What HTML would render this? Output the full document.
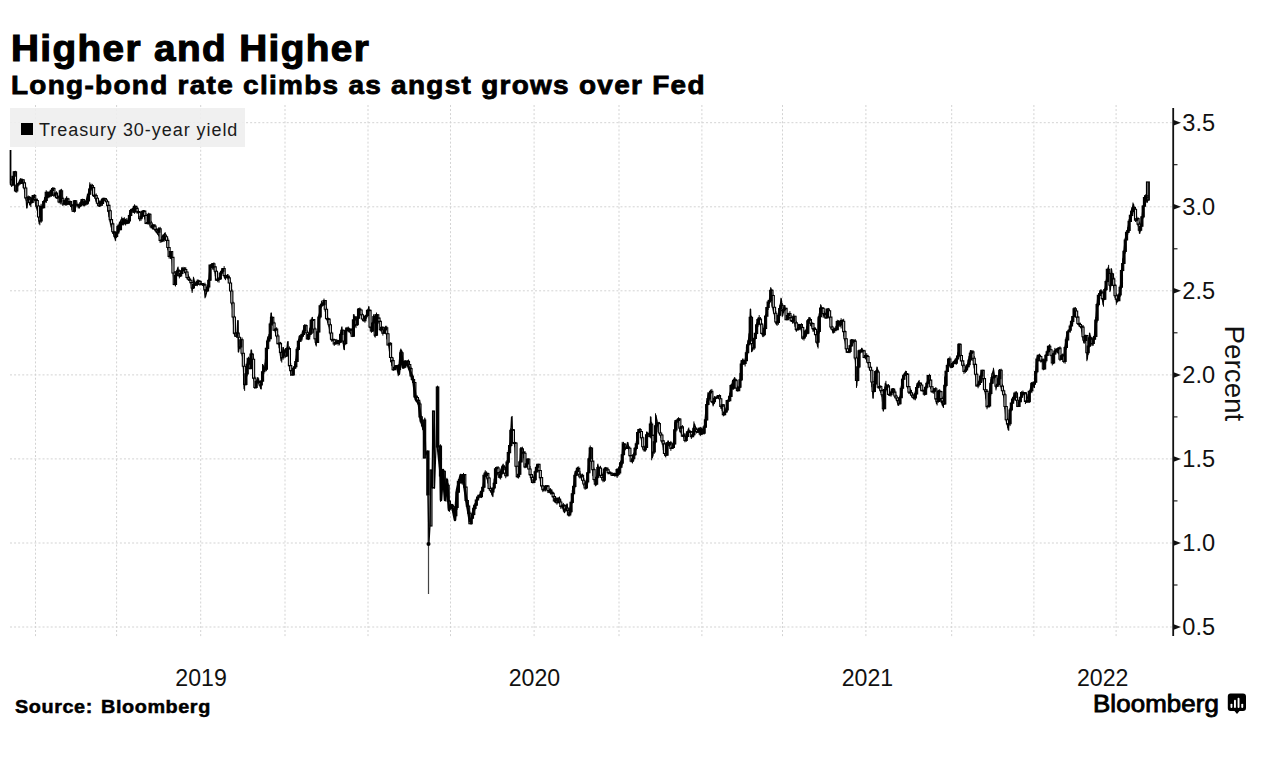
<!DOCTYPE html>
<html><head><meta charset="utf-8"><style>
html,body{margin:0;padding:0;background:#fff;width:1266px;height:762px;overflow:hidden;}
body{position:relative;font-family:"Liberation Sans",sans-serif;color:#000;}
.t{position:absolute;white-space:nowrap;line-height:1;}
</style></head><body>
<div class="t" id="title" style="left:10.6px;top:30.7px;font-size:36px;font-weight:bold;letter-spacing:1.3px;-webkit-text-stroke:1.1px #000;transform:scaleX(1.075);transform-origin:0 0;">Higher and Higher</div>
<div class="t" id="sub" style="left:11px;top:72.2px;font-size:26px;font-weight:bold;letter-spacing:1.2px;-webkit-text-stroke:0.8px #000;transform:scaleX(1.075);transform-origin:0 0;">Long-bond rate climbs as angst grows over Fed</div>
<svg width="1266" height="762" style="position:absolute;left:0;top:0">
<g stroke="#d3d3d3" stroke-width="1" stroke-dasharray="2 2.07" fill="none">
<line x1="35.5" y1="105" x2="35.5" y2="638" /><line x1="116.6" y1="105" x2="116.6" y2="638" /><line x1="200.7" y1="105" x2="200.7" y2="638" /><line x1="285" y1="105" x2="285" y2="638" /><line x1="368" y1="105" x2="368" y2="638" /><line x1="450.5" y1="105" x2="450.5" y2="638" /><line x1="534.1" y1="105" x2="534.1" y2="638" /><line x1="619" y1="105" x2="619" y2="638" /><line x1="701.9" y1="105" x2="701.9" y2="638" /><line x1="782.5" y1="105" x2="782.5" y2="638" /><line x1="865.9" y1="105" x2="865.9" y2="638" /><line x1="951.7" y1="105" x2="951.7" y2="638" /><line x1="1033.9" y1="105" x2="1033.9" y2="638" /><line x1="1116.1" y1="105" x2="1116.1" y2="638" /><line x1="10" y1="122.7" x2="1172" y2="122.7" /><line x1="10" y1="206.8" x2="1172" y2="206.8" /><line x1="10" y1="290.8" x2="1172" y2="290.8" /><line x1="10" y1="374.9" x2="1172" y2="374.9" /><line x1="10" y1="458.9" x2="1172" y2="458.9" /><line x1="10" y1="543.0" x2="1172" y2="543.0" /><line x1="10" y1="627.0" x2="1172" y2="627.0" />
</g>
<rect x="10" y="108" width="235" height="39" fill="#eeeeee" fill-opacity="0.9"/>
<rect x="21" y="123" width="12" height="12" fill="#000"/>
<text x="39" y="135.6" font-size="18" letter-spacing="0.95" font-family="Liberation Sans" fill="#1a1a1a">Treasury 30-year yield</text>
<g stroke="#000" stroke-width="1.1"><rect x="423.3" y="420" width="2.4" height="38" fill="#444"/><rect x="426.8" y="451" width="2.2" height="44" fill="#000"/><rect x="430" y="470" width="2" height="56" fill="#999"/><rect x="432.5" y="411" width="2" height="77" fill="#999"/><rect x="436.3" y="387" width="2.5" height="60" fill="#000"/></g><line x1="428.3" y1="495" x2="428.3" y2="543" stroke="#555" stroke-width="1.6"/><line x1="10.6" y1="150" x2="10.6" y2="185" stroke="#000" stroke-width="1.6"/><line x1="428.5" y1="543" x2="428.5" y2="594" stroke="#444" stroke-width="1.2"/><circle cx="428.5" cy="544" r="2" fill="#000"/><line x1="437.5" y1="446" x2="440" y2="470" stroke="#000" stroke-width="2"/><rect x="1146.5" y="182" width="2.8" height="18" fill="#bbb" stroke="#000" stroke-width="1.2"/>
<path d="M10.4 150.1 L10.4 183.3 L13.0 177.5 L14.4 176.1 L15.9 186.2 L18.0 184.7 L20.2 179.0 L22.4 180.4 L23.8 186.2 L26.0 197.7 L26.7 207.8 L28.1 200.6 L30.3 204.9 L32.5 196.3 L34.6 199.2 L36.1 206.4 L38.2 212.2 L39.2 223.7 L41.1 207.8 L43.3 206.4 L44.7 197.7 L47.6 194.8 L51.9 190.5 L54.8 193.4 L57.7 197.7 L60.6 194.8 L63.5 203.5 L66.4 197.7 L69.3 203.5 L72.2 207.8 L75.0 202.0 L79.4 207.8 L82.3 199.2 L85.1 203.5 L88.0 194.8 L90.2 184.7 L93.1 190.5 L96.0 200.6 L99.6 206.4 L102.5 199.2 L106.1 200.6 L108.2 210.7 L111.1 226.6 L115.4 239.6 L118.3 226.6 L121.2 219.4 L122.9 218.9 L125.8 220.3 L127.9 223.2 L130.1 211.6 L132.3 208.8 L134.4 206.6 L137.3 208.8 L139.5 214.5 L141.6 217.4 L143.8 213.1 L146.0 221.7 L148.9 216.7 L150.3 224.6 L151.7 227.5 L154.6 229.0 L156.1 231.8 L158.2 234.7 L160.4 237.6 L163.3 236.2 L164.7 233.3 L166.2 239.1 L167.6 247.7 L169.8 256.4 L171.9 259.3 L172.7 267.9 L174.1 283.8 L175.6 276.6 L177.7 267.9 L179.9 276.6 L182.0 267.9 L184.9 272.3 L187.8 275.1 L190.7 280.9 L192.2 291.0 L193.6 278.0 L195.0 283.8 L197.9 280.9 L200.0 282.1 L203.7 285.7 L205.5 296.8 L208.3 285.7 L210.1 265.5 L212.9 263.7 L215.6 274.7 L218.4 280.2 L221.1 274.7 L223.0 271.0 L224.8 278.4 L227.6 274.7 L229.4 282.1 L231.3 296.8 L233.1 315.2 L234.0 333.6 L236.8 337.2 L237.7 320.7 L238.6 352.0 L240.5 339.1 L243.2 363.0 L244.1 388.7 L246.0 370.3 L247.8 359.3 L249.7 366.7 L251.5 350.1 L253.3 374.0 L255.2 386.9 L257.9 377.7 L260.7 388.7 L263.1 365.0 L264.5 370.8 L266.0 353.5 L267.4 339.1 L269.6 334.7 L271.0 313.1 L273.2 324.6 L276.1 334.7 L279.0 344.8 L281.1 360.7 L283.3 347.7 L286.2 356.4 L287.6 341.9 L289.1 365.0 L291.2 373.7 L293.4 370.8 L295.6 362.2 L297.0 350.6 L299.2 336.2 L302.0 336.2 L304.2 326.1 L306.4 331.8 L308.5 334.7 L310.7 326.1 L312.2 317.4 L314.3 331.8 L315.8 344.8 L317.9 334.7 L318.6 317.4 L321.5 303.0 L324.4 304.4 L326.6 318.9 L328.7 324.6 L330.9 337.6 L333.8 341.9 L336.7 343.4 L339.6 343.4 L341.7 327.5 L343.9 349.2 L346.1 329.0 L349.7 331.8 L352.6 336.2 L354.0 314.5 L355.4 326.1 L358.3 313.1 L361.9 314.5 L363.2 319.4 L366.3 317.3 L368.8 306.8 L369.5 320.5 L371.6 332.0 L373.7 315.2 L374.7 336.2 L376.8 315.2 L380.0 325.7 L383.1 332.0 L385.2 327.8 L387.3 338.3 L389.4 348.8 L391.1 361.4 L393.6 369.8 L396.8 365.6 L398.9 374.0 L401.0 350.9 L403.1 367.7 L405.2 361.4 L407.3 363.5 L410.4 371.9 L413.6 382.4 L415.7 399.2 L418.8 403.4 L420.9 420.3 L423.0 426.6 L423.5 430.0 L424.0 458.0 L424.8 418.0 L425.8 455.0 L427.5 451.0 L428.0 495.0 L429.0 543.0 L430.0 526.0 L431.0 470.0 L432.0 488.0 L433.0 411.0 L434.5 488.0 L436.0 446.0 L437.5 386.0 L438.5 446.0 L440.0 446.0 L441.0 500.0 L443.0 470.0 L445.0 500.0 L447.0 480.0 L449.0 510.0 L452.0 505.0 L455.0 520.0 L457.0 490.0 L460.7 475.0 L463.6 481.0 L466.5 501.0 L470.0 522.0 L473.7 507.0 L478.0 498.0 L482.4 490.0 L485.0 472.0 L489.6 487.0 L492.5 496.0 L495.4 470.0 L499.9 478.0 L501.3 468.2 L503.0 464.8 L505.6 475.0 L507.3 463.1 L509.0 452.9 L510.4 439.2 L511.5 417.1 L513.3 440.9 L515.0 446.0 L516.7 475.0 L519.2 473.3 L520.9 447.7 L523.5 454.6 L525.2 464.8 L527.7 459.7 L529.5 468.2 L531.2 480.2 L532.9 481.9 L535.4 471.6 L537.1 464.8 L538.8 468.2 L540.5 480.2 L543.1 490.4 L545.7 487.0 L548.2 488.7 L551.6 490.4 L555.0 502.3 L558.4 500.6 L561.9 505.7 L564.4 512.6 L567.0 504.0 L568.7 514.3 L571.2 502.3 L572.9 490.4 L575.5 473.3 L577.2 468.2 L579.8 473.3 L582.3 478.4 L584.9 485.3 L587.4 478.4 L590.0 447.7 L591.7 461.4 L593.4 475.0 L596.0 485.3 L597.7 464.8 L600.2 473.3 L602.8 475.0 L605.3 468.2 L608.8 471.6 L612.2 475.0 L616.4 475.0 L619.0 471.6 L620.0 463.1 L621.9 459.6 L622.8 444.3 L625.3 449.4 L627.9 442.6 L629.6 452.8 L632.2 457.9 L635.6 449.4 L637.3 435.7 L639.8 428.9 L642.4 446.0 L645.0 451.1 L646.7 432.3 L649.2 435.7 L650.9 417.0 L652.3 457.9 L654.3 446.0 L656.0 415.3 L658.6 430.6 L661.2 435.7 L663.7 449.4 L665.4 456.2 L668.0 440.8 L671.4 447.7 L673.9 442.6 L674.8 423.8 L678.2 418.7 L679.9 430.6 L683.3 435.7 L685.0 440.8 L688.4 428.9 L691.9 435.7 L694.4 423.8 L697.0 432.3 L699.5 428.9 L702.1 432.3 L704.6 425.5 L706.4 405.0 L708.1 394.8 L710.6 393.1 L713.2 405.0 L715.7 398.2 L719.1 396.5 L721.7 408.4 L725.1 413.6 L727.7 401.6 L730.2 393.1 L731.1 386.3 L734.5 377.7 L737.0 386.3 L739.6 388.0 L740.5 374.3 L741.3 360.7 L744.7 364.1 L746.8 348.2 L749.4 334.6 L750.6 309.0 L751.9 351.6 L753.6 344.8 L755.3 334.6 L757.1 324.3 L758.8 317.5 L761.3 326.0 L763.0 336.3 L765.6 317.5 L767.3 307.3 L769.8 300.5 L771.0 288.5 L772.4 305.6 L775.0 317.5 L776.7 324.3 L779.2 310.7 L781.3 298.8 L782.6 315.8 L784.7 305.6 L786.0 319.2 L788.6 314.1 L791.2 320.9 L793.7 317.5 L796.3 331.2 L798.8 324.3 L800.5 327.7 L803.1 336.3 L805.7 331.2 L807.4 326.0 L809.1 317.5 L810.8 324.3 L813.3 329.5 L815.9 334.6 L817.6 346.5 L818.4 319.2 L821.0 305.6 L823.6 315.8 L826.1 314.1 L827.8 310.7 L830.4 320.9 L832.9 332.9 L835.5 329.5 L838.1 320.9 L840.6 326.0 L842.3 322.6 L844.0 334.6 L846.6 351.6 L849.1 349.9 L851.7 339.7 L854.3 343.1 L856.0 370.4 L856.8 385.7 L858.5 355.0 L861.9 348.2 L864.5 356.7 L867.9 361.9 L870.5 368.7 L872.2 385.7 L873.0 397.7 L874.7 377.2 L875.1 376.3 L877.2 367.7 L878.5 381.4 L880.2 388.2 L881.9 395.0 L883.3 410.4 L885.3 383.1 L887.9 388.2 L889.6 395.0 L893.0 389.9 L895.6 395.0 L898.1 405.3 L900.7 393.3 L902.4 378.0 L905.8 371.2 L907.5 384.8 L910.9 391.6 L913.5 398.4 L916.0 389.9 L918.6 381.4 L921.2 389.9 L924.6 391.6 L928.8 378.0 L931.4 388.2 L934.8 391.6 L936.5 403.6 L939.1 393.3 L940.8 400.2 L943.3 407.0 L945.0 378.0 L948.4 359.2 L951.0 367.7 L954.4 360.9 L957.0 357.5 L959.5 347.3 L962.1 364.3 L964.6 371.2 L967.2 366.0 L970.6 350.7 L973.2 359.2 L974.9 371.2 L976.6 384.8 L979.1 381.4 L981.7 371.2 L984.3 386.5 L986.0 398.4 L987.7 407.0 L989.4 391.6 L991.9 374.6 L993.6 369.5 L996.2 388.2 L999.6 369.5 L1001.3 386.5 L1003.9 396.7 L1005.9 418.2 L1008.3 430.0 L1009.4 413.4 L1011.8 401.6 L1014.2 394.6 L1017.7 404.0 L1020.1 399.3 L1023.6 392.2 L1026.0 401.6 L1029.5 392.2 L1031.9 382.8 L1034.2 387.5 L1036.6 361.5 L1040.1 359.2 L1043.7 363.9 L1046.0 356.8 L1049.6 345.0 L1051.9 359.2 L1055.5 349.7 L1060.2 354.4 L1063.7 359.2 L1066.1 337.9 L1070.8 326.1 L1073.2 316.7 L1075.5 311.9 L1077.9 323.7 L1081.4 328.5 L1083.8 342.6 L1086.2 335.5 L1087.3 359.2 L1089.7 333.2 L1092.1 345.0 L1094.4 335.5 L1097.8 296.4 L1101.0 290.1 L1103.1 304.7 L1105.2 288.0 L1107.3 273.3 L1108.3 267.0 L1110.4 290.1 L1111.5 269.1 L1113.6 285.9 L1116.7 302.6 L1119.9 296.4 L1120.9 277.5 L1123.0 260.7 L1125.1 239.7 L1127.2 231.3 L1129.3 220.8 L1131.4 210.3 L1133.5 204.1 L1135.6 216.6 L1137.7 222.9 L1139.8 233.4 L1141.9 218.7 L1142.9 208.2 L1145.0 197.8 L1147.1 202.0 L1148.2 199.9 L1148.2 182.0" stroke="#000" stroke-width="1.2" fill="none" stroke-linejoin="round"/><path d="M11.67 179.41V187.01M12.95 176.07V186.09M14.23 171.40V178.14M15.51 170.82V192.27M16.79 183.50V192.82M18.07 183.08V186.58M19.35 180.50V183.79M20.63 178.22V184.02M21.91 178.22V183.83M23.19 179.61V187.94M24.47 181.25V192.03M25.75 186.41V198.63M27.03 196.07V208.37M28.31 195.54V202.66M29.59 196.12V205.40M30.87 202.12V207.06M32.15 195.08V202.84M33.43 194.74V200.19M34.71 194.06V200.55M35.99 198.86V206.83M37.27 198.63V210.98M38.55 205.43V219.09M39.83 214.55V225.25M41.11 203.79V222.87M42.39 206.08V208.62M43.67 201.18V208.23M44.95 197.19V202.40M46.23 190.28V202.94M47.51 191.87V197.96M48.79 192.15V198.30M50.07 190.81V197.13M51.35 189.05V196.84M52.63 187.21V191.50M53.91 187.11V197.05M55.19 193.10V196.44M56.47 191.30V198.68M57.75 195.06V198.70M59.03 195.54V203.24M60.31 189.32V204.34M61.59 188.83V201.10M62.87 196.87V206.06M64.15 199.80V205.24M65.43 198.96V205.63M66.71 196.17V205.66M67.99 197.73V204.98M69.27 201.45V204.43M70.55 200.66V207.08M71.83 204.20V210.15M73.11 205.33V211.96M74.39 200.20V212.60M75.67 200.45V205.76M76.95 202.39V207.44M78.23 203.60V208.51M79.51 204.18V208.26M80.79 200.54V207.00M82.07 199.00V203.93M83.35 198.94V206.27M84.63 201.02V206.36M85.91 200.24V205.53M87.19 195.37V204.91M88.47 191.64V203.21M89.75 182.32V194.30M91.03 183.62V190.66M92.31 183.88V191.17M93.59 186.23V197.01M94.87 194.63V198.46M96.15 193.48V202.11M97.43 196.89V205.40M98.71 201.65V206.67M99.99 199.92V206.57M101.27 199.53V205.98M102.55 198.84V205.81M103.83 197.78V200.67M105.11 198.05V201.44M106.39 198.14V202.17M107.67 200.64V211.80M108.95 204.64V216.91M110.23 209.40V222.15M111.51 217.37V229.98M112.79 222.34V234.01M114.07 230.74V237.24M115.35 231.45V241.16M116.63 232.04V238.03M117.91 224.58V234.20M119.19 223.34V231.90M120.47 220.85V229.63M121.75 216.73V224.81M123.03 218.36V225.72M124.31 217.23V223.96M125.59 219.05V225.46M126.87 217.97V224.28M128.15 219.54V223.66M129.43 212.91V223.21M130.71 208.88V216.32M131.99 208.41V212.53M133.27 206.45V212.90M134.55 204.32V213.81M135.83 205.86V210.57M137.11 206.76V213.89M138.39 209.79V213.44M139.67 211.60V221.21M140.95 214.67V220.92M142.23 211.13V218.42M143.51 209.99V214.76M144.79 210.85V219.37M146.07 213.13V224.16M147.35 219.33V224.44M148.63 212.72V224.64M149.91 213.29V226.17M151.19 220.86V228.56M152.47 224.50V229.51M153.75 224.45V229.28M155.03 224.26V231.24M156.31 227.74V232.90M157.59 230.40V234.47M158.87 227.04V236.31M160.15 226.86V242.93M161.43 236.93V242.43M162.71 235.11V242.12M163.99 234.60V242.03M165.27 232.25V237.93M166.55 235.29V241.82M167.83 238.09V249.83M169.11 246.98V258.58M170.39 251.04V258.99M171.67 251.27V259.48M172.95 257.30V273.13M174.23 271.04V285.43M175.51 273.25V286.47M176.79 270.16V276.73M178.07 266.62V271.70M179.35 269.50V278.41M180.63 271.56V276.61M181.91 267.26V274.35M183.19 266.85V270.83M184.47 267.15V273.25M185.75 267.11V275.30M187.03 271.61V278.74M188.31 274.27V280.65M189.59 276.64V280.86M190.87 280.11V282.78M192.15 282.33V292.96M193.43 276.79V289.07M194.71 282.37V285.32M195.99 281.99V285.92M197.27 279.40V286.22M198.55 279.64V282.45M199.83 279.97V285.66M201.11 280.80V284.35M202.39 283.38V285.59M203.67 282.95V287.17M204.95 282.68V298.31M206.23 287.90V294.03M207.51 285.07V291.10M208.79 278.84V288.82M210.07 265.08V280.94M211.35 263.82V267.72M212.63 263.02V269.57M213.91 262.40V270.10M215.19 266.17V276.33M216.47 269.96V280.95M217.75 276.78V282.20M219.03 276.96V282.68M220.31 271.72V279.37M221.59 269.43V274.86M222.87 268.20V272.94M224.15 266.13V276.65M225.43 274.57V280.16M226.71 275.59V278.22M227.99 274.13V279.75M229.27 275.47V283.15M230.55 280.80V292.33M231.83 288.99V305.10M233.11 301.65V317.37M234.39 315.67V334.68M235.67 332.17V336.77M236.95 332.47V337.41M238.23 320.23V352.28M239.51 337.24V348.87M240.79 338.98V349.31M242.07 337.49V355.51M243.35 353.19V368.27M244.63 366.19V390.85M245.91 368.48V385.69M247.19 357.71V376.34M248.47 356.72V366.30M249.75 357.58V369.44M251.03 349.63V369.46M252.31 353.35V361.26M253.59 357.29V380.34M254.87 376.39V388.99M256.15 379.37V388.66M257.43 377.40V383.53M258.71 378.42V384.02M259.99 380.61V386.51M261.27 380.41V389.45M262.55 364.00V381.26M263.83 367.17V374.21M265.11 362.80V371.31M266.39 346.77V371.22M267.67 336.43V350.43M268.95 333.90V342.23M270.23 322.53V338.76M271.51 312.68V325.18M272.79 317.41V325.69M274.07 321.67V330.55M275.35 328.21V332.40M276.63 327.29V337.43M277.91 334.05V343.67M279.19 342.60V347.99M280.47 341.89V356.08M281.75 351.94V362.57M283.03 346.96V359.81M284.31 350.25V353.02M285.59 347.93V357.65M286.87 347.45V356.10M288.15 341.14V350.69M289.43 346.46V368.77M290.71 363.15V375.84M291.99 370.55V375.25M293.27 367.75V375.33M294.55 363.98V368.35M295.83 358.83V368.57M297.11 347.00V361.91M298.39 339.90V350.64M299.67 335.41V341.40M300.95 334.04V342.01M302.23 331.96V338.59M303.51 329.07V336.49M304.79 324.03V333.43M306.07 324.34V332.87M307.35 330.38V339.11M308.63 334.30V340.10M309.91 327.93V336.66M311.19 318.73V334.65M312.47 317.23V320.57M313.75 319.13V332.89M315.03 327.49V339.32M316.31 338.36V346.49M317.59 331.55V343.02M318.87 314.76V332.62M320.15 305.24V318.64M321.43 300.63V307.71M322.71 302.12V304.82M323.99 298.58V305.67M325.27 300.14V311.74M326.55 306.92V319.04M327.83 316.90V323.17M329.11 318.34V327.07M330.39 322.50V339.54M331.67 331.33V341.73M332.95 339.45V341.09M334.23 338.89V345.91M335.51 340.43V344.16M336.79 338.91V343.99M338.07 340.97V345.55M339.35 339.13V345.38M340.63 332.14V342.36M341.91 326.38V334.98M343.19 329.78V343.66M344.47 338.65V350.16M345.75 327.52V345.17M347.03 326.90V331.65M348.31 326.55V332.35M349.59 328.71V332.26M350.87 328.50V334.05M352.15 328.27V337.11M353.43 314.28V336.40M354.71 315.87V322.11M355.99 316.01V328.12M357.27 316.56V325.95M358.55 308.22V319.36M359.83 307.49V313.84M361.11 309.97V315.74M362.39 313.12V320.36M363.67 318.87V321.46M364.95 315.55V322.71M366.23 314.07V319.05M367.51 310.18V315.79M368.79 306.29V310.30M370.07 309.88V328.35M371.35 325.98V332.63M372.63 322.00V331.71M373.91 314.18V323.26M375.19 314.04V337.62M376.47 312.54V336.05M377.75 314.17V320.68M379.03 317.41V323.54M380.31 320.42V331.30M381.59 327.10V331.74M382.87 326.66V335.59M384.15 328.13V333.41M385.43 325.80V331.32M386.71 325.79V339.35M387.99 332.87V345.19M389.27 343.21V351.32M390.55 342.40V362.18M391.83 356.63V366.10M393.11 358.18V370.81M394.39 366.58V369.96M395.67 365.40V369.28M396.95 365.09V367.49M398.23 364.52V376.17M399.51 363.61V371.34M400.79 348.60V367.18M402.07 351.25V363.31M403.35 361.30V367.89M404.63 361.17V368.45M405.91 360.73V367.39M407.19 360.06V363.85M408.47 359.50V369.18M409.75 364.23V371.65M411.03 366.70V376.04M412.31 374.40V380.40M413.59 377.75V382.70M414.87 382.36V397.71M416.15 395.23V401.65M417.43 395.55V403.24M418.71 398.44V406.37M419.99 401.54V418.42M421.27 415.67V423.35M422.55 419.40V427.52M440.47 444.32V501.79M441.75 474.36V489.84M443.03 469.60V488.76M444.31 470.71V492.08M445.59 484.49V501.38M446.87 477.81V496.36M448.15 483.37V502.54M449.43 500.27V511.84M450.71 503.86V509.19M451.99 504.54V508.58M453.27 504.79V512.92M454.55 508.46V520.99M455.83 506.31V516.13M457.11 488.57V509.83M458.39 479.00V492.20M459.67 478.44V483.07M460.95 473.96V483.71M462.23 477.62V484.64M463.51 472.92V483.04M464.79 474.16V489.81M466.07 486.88V502.07M467.35 499.47V508.53M468.63 504.20V515.76M469.91 511.42V523.85M471.19 517.01V524.51M472.47 511.91V519.28M473.75 504.78V515.78M475.03 502.95V510.41M476.31 498.46V505.73M477.59 496.93V500.68M478.87 494.88V498.60M480.15 492.12V497.97M481.43 490.62V498.07M482.71 487.21V493.60M483.99 472.69V487.96M485.27 470.29V477.30M486.55 471.39V477.46M487.83 472.44V483.51M489.11 476.93V489.34M490.39 486.09V492.12M491.67 487.82V494.63M492.95 487.90V497.10M494.23 478.68V489.57M495.51 467.03V484.02M496.79 466.46V473.81M498.07 466.13V475.56M499.35 471.14V478.21M500.63 470.72V479.51M501.91 465.66V474.65M503.19 463.66V471.44M504.47 465.23V473.47M505.75 471.40V478.22M507.03 460.04V476.48M508.31 450.22V464.33M509.59 443.46V454.47M510.87 428.19V447.21M512.15 415.98V432.25M513.43 429.58V443.75M514.71 441.52V447.18M515.99 442.47V466.96M517.27 465.75V478.16M518.55 471.42V478.57M519.83 459.93V474.61M521.11 447.21V462.33M522.39 446.70V452.62M523.67 451.20V458.06M524.95 451.05V468.24M526.23 460.82V467.38M527.51 458.88V465.21M528.79 458.78V469.27M530.07 465.88V476.04M531.35 473.85V482.82M532.63 475.48V483.40M533.91 477.59V483.34M535.19 469.69V480.90M536.47 464.84V472.32M537.75 464.24V468.87M539.03 464.07V472.43M540.31 470.01V481.45M541.59 477.44V488.25M542.87 485.52V492.14M544.15 487.01V491.42M545.43 485.11V491.42M546.71 485.57V489.89M547.99 485.01V493.12M549.27 488.87V492.31M550.55 488.13V494.55M551.83 489.32V494.51M553.11 491.68V498.01M554.39 494.73V501.74M555.67 496.45V503.17M556.95 498.40V504.68M558.23 497.16V502.77M559.51 496.57V503.61M560.79 499.57V508.82M562.07 503.93V508.44M563.35 502.92V511.59M564.63 504.44V513.05M565.91 506.20V511.90M567.19 503.71V510.50M568.47 508.19V516.40M569.75 507.81V516.49M571.03 502.27V513.45M572.31 490.18V503.60M573.59 485.02V495.62M574.87 472.50V488.24M576.15 469.75V476.15M577.43 466.78V472.98M578.71 466.38V476.66M579.99 470.87V478.67M581.27 475.25V477.60M582.55 473.66V482.48M583.83 477.96V486.22M585.11 481.58V489.86M586.39 479.80V489.11M587.67 472.07V484.29M588.95 457.74V473.22M590.23 445.50V461.26M591.51 447.20V463.67M592.79 460.88V476.20M594.07 467.60V481.54M595.35 477.40V486.32M596.63 475.53V485.18M597.91 463.64V478.33M599.19 466.90V470.70M600.47 465.77V476.65M601.75 472.12V479.84M603.03 474.06V482.35M604.31 467.59V481.97M605.59 466.93V469.15M606.87 468.02V471.19M608.15 468.77V474.44M609.43 471.72V473.91M610.71 471.34V474.03M611.99 472.44V475.80M613.27 473.06V475.33M614.55 472.72V476.36M615.83 473.21V476.05M617.11 468.03V477.97M618.39 467.93V475.22M619.67 462.35V474.97M620.95 460.73V468.32M622.23 441.86V465.35M623.51 441.89V455.36M624.79 443.26V450.86M626.07 447.20V449.07M627.35 441.92V448.69M628.63 445.81V449.66M629.91 447.57V456.61M631.19 455.60V462.51M632.47 457.11V463.44M633.75 452.78V460.74M635.03 446.95V455.85M636.31 441.16V450.34M637.59 431.45V444.53M638.87 428.84V432.93M640.15 428.15V431.85M641.43 431.12V440.57M642.71 436.04V448.95M643.99 446.63V451.59M645.27 445.17V451.37M646.55 431.61V447.80M647.83 431.74V436.86M649.11 433.25V437.37M650.39 416.42V438.35M651.67 421.83V460.31M652.95 433.99V456.47M654.23 439.89V453.90M655.51 413.31V443.61M656.79 419.63V426.61M658.07 421.83V432.07M659.35 421.93V435.27M660.63 431.39V437.76M661.91 433.91V442.92M663.19 439.95V450.23M664.47 442.59V455.56M665.75 451.73V457.43M667.03 442.15V455.55M668.31 440.83V446.17M669.59 442.02V447.17M670.87 440.89V450.85M672.15 445.14V448.77M673.43 440.76V447.35M674.71 421.50V444.88M675.99 420.22V431.74M677.27 418.63V422.84M678.55 417.19V421.08M679.83 418.10V432.35M681.11 426.30V433.60M682.39 425.05V436.46M683.67 432.71V436.82M684.95 432.92V442.33M686.23 435.68V441.88M687.51 431.45V437.87M688.79 427.55V431.98M690.07 429.97V433.07M691.35 431.23V438.95M692.63 431.77V437.10M693.91 421.43V435.92M695.19 426.23V430.51M696.47 427.71V433.44M697.75 428.89V432.83M699.03 427.82V433.25M700.31 426.88V436.15M701.59 427.65V434.53M702.87 428.60V434.03M704.15 424.96V434.54M705.43 413.87V427.71M706.71 401.11V420.65M707.99 392.35V405.33M709.27 392.98V400.63M710.55 389.63V394.39M711.83 388.93V403.15M713.11 400.91V406.39M714.39 396.03V403.98M715.67 396.58V399.80M716.95 395.92V398.65M718.23 395.34V397.55M719.51 394.36V399.34M720.79 398.73V408.77M722.07 404.92V411.19M723.35 404.37V416.36M724.63 411.94V415.39M725.91 407.65V412.42M727.19 400.37V412.11M728.47 396.53V400.87M729.75 392.77V401.24M731.03 384.13V396.90M732.31 381.04V389.74M733.59 379.33V389.76M734.87 377.52V380.65M736.15 378.84V389.12M737.43 385.89V391.38M738.71 387.01V390.81M739.99 372.95V388.05M741.27 359.94V380.92M742.55 358.56V364.93M743.83 358.69V364.09M745.11 360.55V366.50M746.39 346.64V360.82M747.67 343.54V354.51M748.95 333.41V345.23M750.23 308.88V341.58M751.51 315.73V352.10M752.79 342.50V350.66M754.07 338.14V350.03M755.35 332.78V339.48M756.63 322.52V335.16M757.91 317.59V327.12M759.19 315.06V320.84M760.47 317.04V326.07M761.75 322.72V333.87M763.03 332.84V337.18M764.31 324.84V336.26M765.59 314.14V329.92M766.87 306.96V316.19M768.15 300.13V309.96M769.43 297.91V304.08M770.71 287.18V301.02M771.99 289.30V306.57M773.27 294.73V311.61M774.55 307.07V318.93M775.83 310.91V324.31M777.11 320.01V325.89M778.39 314.86V324.81M779.67 306.51V317.59M780.95 297.80V308.62M782.23 302.91V316.77M783.51 307.48V312.78M784.79 305.04V309.83M786.07 308.13V320.01M787.35 315.45V320.05M788.63 312.79V318.11M789.91 311.20V319.47M791.19 315.28V321.90M792.47 318.98V323.61M793.75 313.84V323.02M795.03 316.20V326.79M796.31 320.83V331.25M797.59 327.51V329.95M798.87 323.90V329.59M800.15 324.31V329.20M801.43 323.21V332.13M802.71 326.33V339.68M803.99 333.18V340.57M805.27 329.65V338.08M806.55 326.39V335.38M807.83 319.06V334.33M809.11 316.98V321.05M810.39 317.53V326.18M811.67 321.48V326.80M812.95 323.37V331.74M814.23 326.94V331.55M815.51 327.44V336.36M816.79 333.62V343.70M818.07 317.16V348.48M819.35 313.27V333.58M820.63 304.25V317.30M821.91 307.37V311.41M823.19 307.32V317.79M824.47 311.25V317.05M825.75 312.51V318.50M827.03 308.96V317.88M828.31 307.95V313.87M829.59 310.72V319.39M830.87 316.97V329.01M832.15 325.68V330.08M833.43 328.79V333.35M834.71 327.57V332.91M835.99 325.85V331.30M837.27 319.75V330.04M838.55 320.26V325.94M839.83 322.03V327.02M841.11 318.26V328.47M842.39 319.38V325.10M843.67 318.82V336.32M844.95 330.27V340.93M846.23 338.41V352.84M847.51 348.75V353.05M848.79 349.12V353.12M850.07 345.12V353.18M851.35 339.38V346.93M852.63 339.70V342.00M853.91 339.42V343.40M855.19 338.98V360.10M856.47 356.48V387.90M857.75 366.71V381.37M859.03 349.55V368.22M860.31 349.32V353.57M861.59 348.11V352.56M862.87 350.19V351.44M864.15 350.78V358.21M865.43 353.47V358.82M866.71 353.14V361.75M867.99 354.81V364.23M869.27 362.15V369.42M870.55 365.67V372.07M871.83 370.14V387.17M873.11 381.21V398.79M874.39 377.11V392.31M875.67 370.35V384.48M876.95 366.59V372.37M878.23 369.67V388.89M879.51 382.87V389.77M880.79 385.25V393.03M882.07 388.61V396.99M883.35 393.95V411.64M884.63 389.05V408.98M885.91 380.84V391.56M887.19 384.22V388.49M888.47 384.09V395.59M889.75 393.92V396.18M891.03 390.67V396.69M892.31 388.13V393.16M893.59 388.11V394.51M894.87 389.85V398.09M896.15 394.63V400.18M897.43 397.25V402.78M898.71 399.72V405.90M899.99 396.08V404.63M901.27 385.68V397.64M902.55 375.44V390.65M903.83 374.16V379.79M905.11 371.93V375.86M906.39 370.99V376.11M907.67 374.11V388.76M908.95 386.03V394.08M910.23 388.25V393.44M911.51 389.83V397.24M912.79 394.49V398.05M914.07 394.34V400.12M915.35 390.85V400.29M916.63 385.20V394.60M917.91 382.59V388.28M919.19 379.96V384.59M920.47 383.14V388.44M921.75 384.93V390.70M923.03 390.55V391.08M924.31 389.03V395.81M925.59 386.18V395.13M926.87 381.47V389.39M928.15 374.88V384.41M929.43 373.78V382.18M930.71 379.61V389.01M931.99 386.28V392.59M933.27 388.32V393.76M934.55 388.47V391.82M935.83 387.02V399.07M937.11 396.81V405.44M938.39 389.76V402.70M939.67 389.26V396.66M940.95 391.04V402.58M942.23 396.57V405.67M943.51 400.98V407.88M944.79 376.68V404.77M946.07 371.38V387.19M947.35 363.38V371.52M948.63 357.86V365.68M949.91 356.52V367.37M951.19 363.23V368.11M952.47 362.81V367.98M953.75 360.80V364.35M955.03 359.69V364.27M956.31 357.34V364.76M957.59 352.65V360.42M958.87 343.20V357.47M960.15 343.46V357.26M961.43 354.90V361.84M962.71 360.59V366.74M963.99 363.26V373.90M965.27 368.31V373.11M966.55 364.75V371.07M967.83 363.09V368.50M969.11 356.07V367.23M970.39 350.17V362.07M971.67 350.13V355.69M972.95 350.05V360.91M974.23 355.99V368.40M975.51 362.79V376.86M976.79 372.61V386.31M978.07 380.91V388.28M979.35 379.32V384.73M980.63 375.38V382.71M981.91 370.42V377.19M983.19 369.94V381.66M984.47 377.22V389.83M985.75 389.52V398.54M987.03 389.26V409.27M988.31 400.41V407.15M989.59 389.84V407.28M990.87 379.24V395.44M992.15 373.01V384.04M993.43 367.77V378.38M994.71 375.30V377.47M995.99 375.19V390.38M997.27 381.79V386.85M998.55 374.52V384.53M999.83 369.12V380.20M1001.11 368.67V388.53M1002.39 383.79V392.56M1003.67 389.10V397.42M1004.95 393.07V409.09M1006.23 405.92V421.66M1007.51 417.95V427.74M1008.79 420.21V430.71M1010.07 407.86V426.09M1011.35 401.58V411.42M1012.63 396.76V403.76M1013.91 392.66V401.29M1015.19 391.35V398.64M1016.47 391.29V401.33M1017.75 400.04V407.08M1019.03 401.18V406.55M1020.31 396.87V402.17M1021.59 391.22V397.43M1022.87 390.53V395.50M1024.15 392.16V395.30M1025.43 392.19V404.05M1026.71 397.73V402.99M1027.99 394.04V403.06M1029.27 390.72V402.95M1030.55 387.56V393.44M1031.83 382.01V393.08M1033.11 381.73V385.41M1034.39 382.00V387.89M1035.67 371.38V382.37M1036.95 356.59V373.30M1038.23 354.57V361.50M1039.51 353.68V360.16M1040.79 356.23V362.51M1042.07 358.48V362.09M1043.35 358.56V370.30M1044.63 360.79V369.22M1045.91 353.85V362.62M1047.19 349.76V355.89M1048.47 345.72V352.44M1049.75 344.28V350.71M1051.03 349.30V355.72M1052.31 354.11V365.42M1053.59 353.62V364.18M1054.87 347.88V354.99M1056.15 348.85V352.72M1057.43 348.20V353.35M1058.71 347.29V354.46M1059.99 346.32V361.11M1061.27 354.35V360.04M1062.55 353.60V359.83M1063.83 353.66V363.14M1065.11 345.81V363.71M1066.39 335.43V349.65M1067.67 331.71V341.53M1068.95 329.32V332.04M1070.23 324.12V332.68M1071.51 319.93V326.70M1072.79 315.91V323.69M1074.07 307.13V317.51M1075.35 307.04V313.11M1076.63 311.02V318.05M1077.91 315.81V324.92M1079.19 322.66V326.78M1080.47 322.69V328.08M1081.75 326.20V331.40M1083.03 325.01V340.34M1084.31 334.92V343.73M1085.59 334.68V342.79M1086.87 334.86V361.19M1088.15 345.05V355.07M1089.43 332.95V347.53M1090.71 335.69V341.57M1091.99 337.00V346.14M1093.27 338.09V345.72M1094.55 331.85V339.99M1095.83 316.92V336.68M1097.11 303.11V322.50M1098.39 295.08V306.61M1099.67 290.23V296.29M1100.95 289.37V293.68M1102.23 290.47V298.99M1103.51 296.61V306.65M1104.79 287.94V299.85M1106.07 280.51V290.83M1107.35 268.83V282.29M1108.63 264.86V275.53M1109.91 272.55V292.07M1111.19 268.20V286.26M1112.47 273.22V281.13M1113.75 277.06V287.39M1115.03 283.69V298.01M1116.31 293.38V304.77M1117.59 298.12V301.84M1118.87 293.20V300.98M1120.15 285.36V296.50M1121.43 268.83V289.15M1122.71 258.32V271.49M1123.99 250.22V263.66M1125.27 237.62V253.59M1126.55 232.28V240.04M1127.83 227.11V234.62M1129.11 219.00V232.61M1130.39 214.59V221.51M1131.67 209.30V217.52M1132.95 202.54V213.55M1134.23 206.43V210.54M1135.51 206.82V221.90M1136.79 216.48V220.81M1138.07 217.27V225.37M1139.35 221.68V233.50M1140.63 225.26V231.49M1141.91 216.41V226.42M1143.19 205.18V218.53M1144.47 195.48V206.83M1145.75 194.22V200.98M1147.03 195.55V203.06" stroke="#000" stroke-width="1" fill="none"/><path d="M10.62 180.00h2.1V185.00h-2.1ZM14.46 171.80h2.1V190.98h-2.1ZM22.14 179.68h2.1V182.90h-2.1ZM23.42 182.90h2.1V187.99h-2.1ZM24.70 187.99h2.1V197.88h-2.1ZM25.98 197.88h2.1V200.00h-2.1ZM28.54 197.19h2.1V202.38h-2.1ZM29.82 202.03h2.1V202.83h-2.1ZM33.66 195.47h2.1V199.35h-2.1ZM34.94 199.35h2.1V200.51h-2.1ZM36.22 200.51h2.1V205.94h-2.1ZM37.50 205.94h2.1V216.96h-2.1ZM38.78 216.96h2.1V220.90h-2.1ZM41.34 206.21h2.1V207.70h-2.1ZM46.46 192.41h2.1V196.60h-2.1ZM49.02 192.28h2.1V195.45h-2.1ZM52.86 188.45h2.1V195.12h-2.1ZM55.42 193.15h2.1V197.71h-2.1ZM57.98 197.33h2.1V202.04h-2.1ZM60.54 190.69h2.1V198.73h-2.1ZM61.82 198.73h2.1V204.03h-2.1ZM64.38 200.43h2.1V204.20h-2.1ZM66.94 198.84h2.1V204.00h-2.1ZM69.50 201.67h2.1V204.70h-2.1ZM70.78 204.70h2.1V205.70h-2.1ZM72.06 205.70h2.1V211.26h-2.1ZM74.62 200.77h2.1V204.73h-2.1ZM75.90 204.43h2.1V205.23h-2.1ZM77.18 204.94h2.1V205.77h-2.1ZM82.30 199.53h2.1V204.60h-2.1ZM84.86 201.68h2.1V203.62h-2.1ZM91.26 185.54h2.1V187.59h-2.1ZM92.54 187.59h2.1V195.60h-2.1ZM95.10 195.44h2.1V198.23h-2.1ZM96.38 198.23h2.1V203.26h-2.1ZM97.66 203.26h2.1V205.69h-2.1ZM100.22 201.72h2.1V203.57h-2.1ZM104.06 198.46h2.1V199.94h-2.1ZM105.34 199.94h2.1V201.73h-2.1ZM106.62 201.73h2.1V205.34h-2.1ZM107.90 205.34h2.1V210.76h-2.1ZM109.18 210.76h2.1V219.62h-2.1ZM110.46 219.62h2.1V223.90h-2.1ZM111.74 223.90h2.1V231.77h-2.1ZM113.02 231.77h2.1V232.58h-2.1ZM114.30 232.58h2.1V236.40h-2.1ZM118.14 226.32h2.1V229.60h-2.1ZM120.70 222.24h2.1V224.22h-2.1ZM123.26 219.28h2.1V223.44h-2.1ZM125.82 220.25h2.1V223.03h-2.1ZM132.22 209.61h2.1V211.94h-2.1ZM134.78 206.39h2.1V208.40h-2.1ZM136.06 208.40h2.1V211.95h-2.1ZM137.34 211.61h2.1V212.41h-2.1ZM138.62 212.07h2.1V218.72h-2.1ZM143.74 211.15h2.1V215.48h-2.1ZM145.02 215.48h2.1V223.33h-2.1ZM148.86 214.29h2.1V222.95h-2.1ZM150.14 222.95h2.1V226.97h-2.1ZM152.70 225.06h2.1V226.09h-2.1ZM153.98 226.09h2.1V229.49h-2.1ZM155.26 229.49h2.1V230.71h-2.1ZM156.54 230.71h2.1V232.26h-2.1ZM159.10 228.87h2.1V240.54h-2.1ZM164.22 234.95h2.1V236.76h-2.1ZM165.50 236.76h2.1V240.35h-2.1ZM166.78 240.35h2.1V247.43h-2.1ZM168.06 247.43h2.1V256.37h-2.1ZM170.62 251.57h2.1V257.35h-2.1ZM171.90 257.35h2.1V272.99h-2.1ZM173.18 272.99h2.1V284.50h-2.1ZM178.30 270.99h2.1V275.88h-2.1ZM183.42 268.84h2.1V269.64h-2.1ZM184.70 269.55h2.1V272.00h-2.1ZM185.98 272.00h2.1V277.50h-2.1ZM187.26 277.50h2.1V279.17h-2.1ZM188.54 279.17h2.1V280.26h-2.1ZM189.82 280.26h2.1V282.62h-2.1ZM191.10 282.62h2.1V287.94h-2.1ZM193.66 284.29h2.1V285.09h-2.1ZM197.50 280.96h2.1V281.76h-2.1ZM198.78 281.46h2.1V284.22h-2.1ZM201.34 283.48h2.1V284.65h-2.1ZM202.62 284.28h2.1V285.08h-2.1ZM203.90 284.71h2.1V289.86h-2.1ZM205.18 289.86h2.1V290.99h-2.1ZM210.30 265.17h2.1V267.24h-2.1ZM212.86 263.78h2.1V266.87h-2.1ZM214.14 266.87h2.1V271.21h-2.1ZM215.42 271.21h2.1V280.29h-2.1ZM223.10 268.48h2.1V275.57h-2.1ZM224.38 275.57h2.1V277.40h-2.1ZM226.94 276.65h2.1V277.92h-2.1ZM228.22 277.92h2.1V282.98h-2.1ZM229.50 282.98h2.1V290.94h-2.1ZM230.78 290.94h2.1V302.94h-2.1ZM232.06 302.94h2.1V317.00h-2.1ZM233.34 317.00h2.1V333.09h-2.1ZM234.62 333.09h2.1V336.32h-2.1ZM237.18 333.13h2.1V337.25h-2.1ZM238.46 337.25h2.1V346.90h-2.1ZM241.02 339.82h2.1V353.27h-2.1ZM242.30 353.27h2.1V366.22h-2.1ZM243.58 366.22h2.1V384.37h-2.1ZM248.70 358.85h2.1V368.36h-2.1ZM251.26 354.12h2.1V359.30h-2.1ZM252.54 359.30h2.1V378.15h-2.1ZM253.82 378.15h2.1V387.48h-2.1ZM256.38 381.21h2.1V382.01h-2.1ZM257.66 381.55h2.1V382.35h-2.1ZM258.94 382.25h2.1V385.00h-2.1ZM264.06 368.62h2.1V369.42h-2.1ZM271.74 317.41h2.1V323.02h-2.1ZM273.02 323.02h2.1V330.23h-2.1ZM275.58 328.96h2.1V336.03h-2.1ZM276.86 336.03h2.1V343.63h-2.1ZM279.42 343.31h2.1V352.34h-2.1ZM280.70 352.34h2.1V357.62h-2.1ZM284.54 350.30h2.1V356.06h-2.1ZM288.38 348.53h2.1V365.64h-2.1ZM289.66 365.64h2.1V370.67h-2.1ZM290.94 370.67h2.1V374.87h-2.1ZM305.02 325.65h2.1V332.69h-2.1ZM306.30 332.69h2.1V338.86h-2.1ZM312.70 319.66h2.1V328.99h-2.1ZM313.98 328.99h2.1V338.71h-2.1ZM315.26 338.71h2.1V342.34h-2.1ZM321.66 304.11h2.1V304.91h-2.1ZM324.22 300.43h2.1V309.29h-2.1ZM325.50 309.29h2.1V318.82h-2.1ZM326.78 318.60h2.1V319.40h-2.1ZM328.06 319.17h2.1V324.69h-2.1ZM329.34 324.69h2.1V333.00h-2.1ZM330.62 333.00h2.1V339.74h-2.1ZM333.18 339.59h2.1V343.96h-2.1ZM338.30 340.99h2.1V342.09h-2.1ZM342.14 330.25h2.1V341.06h-2.1ZM343.42 341.06h2.1V343.54h-2.1ZM347.26 328.36h2.1V330.18h-2.1ZM349.82 329.28h2.1V330.08h-2.1ZM351.10 329.91h2.1V336.26h-2.1ZM354.94 317.28h2.1V324.69h-2.1ZM358.78 309.09h2.1V310.07h-2.1ZM360.06 310.07h2.1V314.79h-2.1ZM361.34 314.79h2.1V318.93h-2.1ZM362.62 318.93h2.1V320.64h-2.1ZM367.74 309.82h2.1V310.62h-2.1ZM369.02 310.25h2.1V327.16h-2.1ZM370.30 327.16h2.1V330.95h-2.1ZM374.14 316.46h2.1V335.15h-2.1ZM376.70 314.81h2.1V318.16h-2.1ZM377.98 318.16h2.1V321.37h-2.1ZM379.26 321.37h2.1V329.62h-2.1ZM381.82 327.20h2.1V333.14h-2.1ZM385.66 327.70h2.1V333.74h-2.1ZM386.94 333.74h2.1V344.93h-2.1ZM389.50 343.24h2.1V357.48h-2.1ZM390.78 357.48h2.1V360.67h-2.1ZM392.06 360.67h2.1V369.76h-2.1ZM395.90 365.79h2.1V366.69h-2.1ZM397.18 366.69h2.1V369.33h-2.1ZM401.02 352.82h2.1V361.48h-2.1ZM402.30 361.48h2.1V367.24h-2.1ZM407.42 361.18h2.1V364.44h-2.1ZM408.70 364.44h2.1V368.59h-2.1ZM409.98 368.59h2.1V375.93h-2.1ZM411.26 375.93h2.1V379.47h-2.1ZM412.54 379.47h2.1V382.43h-2.1ZM413.82 382.43h2.1V396.94h-2.1ZM415.10 396.79h2.1V397.59h-2.1ZM416.38 397.44h2.1V400.38h-2.1ZM417.66 400.38h2.1V403.94h-2.1ZM418.94 403.94h2.1V416.87h-2.1ZM420.22 416.87h2.1V421.71h-2.1ZM421.50 421.71h2.1V425.90h-2.1ZM439.42 446.00h2.1V475.83h-2.1ZM440.70 475.83h2.1V488.44h-2.1ZM443.26 471.30h2.1V486.71h-2.1ZM444.54 486.71h2.1V494.15h-2.1ZM447.10 485.29h2.1V501.11h-2.1ZM448.38 501.11h2.1V507.86h-2.1ZM450.94 505.38h2.1V506.52h-2.1ZM452.22 506.52h2.1V510.30h-2.1ZM453.50 510.30h2.1V515.65h-2.1ZM459.90 479.46h2.1V482.67h-2.1ZM463.74 474.65h2.1V487.12h-2.1ZM465.02 487.12h2.1V500.44h-2.1ZM466.30 500.44h2.1V506.14h-2.1ZM467.58 506.14h2.1V513.31h-2.1ZM468.86 513.31h2.1V523.72h-2.1ZM479.10 495.26h2.1V496.65h-2.1ZM484.22 475.10h2.1V475.90h-2.1ZM486.78 473.55h2.1V478.04h-2.1ZM488.06 478.04h2.1V488.45h-2.1ZM489.34 488.45h2.1V490.19h-2.1ZM490.62 490.19h2.1V491.87h-2.1ZM497.02 467.71h2.1V472.58h-2.1ZM498.30 472.58h2.1V477.22h-2.1ZM503.42 467.12h2.1V473.12h-2.1ZM504.70 473.12h2.1V475.79h-2.1ZM512.38 429.68h2.1V443.12h-2.1ZM514.94 442.95h2.1V466.19h-2.1ZM516.22 466.19h2.1V476.67h-2.1ZM521.34 448.91h2.1V452.41h-2.1ZM522.62 452.41h2.1V453.23h-2.1ZM523.90 453.23h2.1V466.89h-2.1ZM527.74 458.96h2.1V469.03h-2.1ZM529.02 469.03h2.1V474.64h-2.1ZM530.30 474.64h2.1V477.42h-2.1ZM531.58 477.42h2.1V482.56h-2.1ZM537.98 464.39h2.1V470.52h-2.1ZM539.26 470.52h2.1V477.58h-2.1ZM540.54 477.58h2.1V485.89h-2.1ZM541.82 485.89h2.1V489.81h-2.1ZM546.94 486.03h2.1V490.63h-2.1ZM548.22 490.63h2.1V492.10h-2.1ZM549.50 491.91h2.1V492.71h-2.1ZM550.78 492.52h2.1V493.38h-2.1ZM552.06 493.38h2.1V496.66h-2.1ZM553.34 496.66h2.1V501.00h-2.1ZM555.90 498.40h2.1V502.71h-2.1ZM558.46 498.95h2.1V502.00h-2.1ZM559.74 502.00h2.1V506.40h-2.1ZM563.58 505.21h2.1V509.47h-2.1ZM566.14 507.95h2.1V510.43h-2.1ZM567.42 510.43h2.1V514.87h-2.1ZM577.66 468.41h2.1V474.21h-2.1ZM578.94 474.21h2.1V477.00h-2.1ZM581.50 475.26h2.1V480.26h-2.1ZM582.78 480.26h2.1V484.04h-2.1ZM584.06 484.04h2.1V487.99h-2.1ZM590.46 448.04h2.1V461.17h-2.1ZM591.74 461.17h2.1V469.67h-2.1ZM593.02 469.67h2.1V479.43h-2.1ZM594.30 479.43h2.1V484.12h-2.1ZM598.14 467.42h2.1V468.22h-2.1ZM599.42 468.09h2.1V475.35h-2.1ZM600.70 475.35h2.1V477.56h-2.1ZM601.98 477.56h2.1V480.15h-2.1ZM605.82 468.16h2.1V469.85h-2.1ZM607.10 469.85h2.1V472.65h-2.1ZM608.38 472.65h2.1V473.47h-2.1ZM610.94 473.32h2.1V475.31h-2.1ZM614.78 473.44h2.1V475.67h-2.1ZM617.34 469.44h2.1V472.94h-2.1ZM623.74 444.12h2.1V447.79h-2.1ZM625.02 447.71h2.1V448.51h-2.1ZM627.58 446.99h2.1V448.30h-2.1ZM628.86 448.30h2.1V455.65h-2.1ZM630.14 455.65h2.1V461.22h-2.1ZM639.10 429.60h2.1V431.53h-2.1ZM640.38 431.53h2.1V437.73h-2.1ZM641.66 437.73h2.1V446.72h-2.1ZM642.94 446.72h2.1V449.69h-2.1ZM648.06 433.86h2.1V436.24h-2.1ZM650.62 424.13h2.1V435.48h-2.1ZM651.90 435.48h2.1V452.04h-2.1ZM657.02 422.73h2.1V423.67h-2.1ZM658.30 423.67h2.1V432.93h-2.1ZM659.58 432.93h2.1V435.06h-2.1ZM660.86 435.06h2.1V440.91h-2.1ZM662.14 440.91h2.1V443.84h-2.1ZM663.42 443.84h2.1V453.51h-2.1ZM664.70 453.51h2.1V455.12h-2.1ZM667.26 442.86h2.1V445.03h-2.1ZM669.82 442.85h2.1V448.36h-2.1ZM678.78 418.96h2.1V428.10h-2.1ZM681.34 426.69h2.1V436.18h-2.1ZM683.90 434.97h2.1V440.48h-2.1ZM687.74 431.44h2.1V432.24h-2.1ZM690.30 431.88h2.1V436.64h-2.1ZM694.14 428.30h2.1V429.82h-2.1ZM695.42 429.82h2.1V431.64h-2.1ZM696.70 431.43h2.1V432.23h-2.1ZM699.26 428.18h2.1V434.09h-2.1ZM701.82 429.37h2.1V433.28h-2.1ZM710.78 391.30h2.1V401.72h-2.1ZM718.46 395.44h2.1V398.78h-2.1ZM719.74 398.78h2.1V406.42h-2.1ZM722.30 404.92h2.1V414.64h-2.1ZM727.42 400.29h2.1V401.09h-2.1ZM731.26 385.53h2.1V388.23h-2.1ZM733.82 379.91h2.1V380.71h-2.1ZM735.10 380.39h2.1V387.95h-2.1ZM736.38 387.95h2.1V390.63h-2.1ZM742.78 360.65h2.1V363.53h-2.1ZM750.46 317.31h2.1V343.50h-2.1ZM751.74 343.50h2.1V347.89h-2.1ZM759.42 318.95h2.1V324.15h-2.1ZM760.70 324.15h2.1V333.33h-2.1ZM761.98 333.33h2.1V334.60h-2.1ZM770.94 290.19h2.1V295.47h-2.1ZM772.22 295.47h2.1V307.20h-2.1ZM773.50 307.20h2.1V313.24h-2.1ZM774.78 313.24h2.1V321.93h-2.1ZM776.06 321.85h2.1V322.65h-2.1ZM781.18 305.41h2.1V310.66h-2.1ZM785.02 308.37h2.1V319.77h-2.1ZM788.86 313.54h2.1V317.64h-2.1ZM790.14 317.64h2.1V320.78h-2.1ZM791.42 320.59h2.1V321.39h-2.1ZM793.98 316.29h2.1V322.85h-2.1ZM795.26 322.85h2.1V329.55h-2.1ZM800.38 324.46h2.1V327.51h-2.1ZM801.66 327.51h2.1V338.11h-2.1ZM805.50 331.17h2.1V333.30h-2.1ZM809.34 319.59h2.1V323.32h-2.1ZM810.62 322.97h2.1V323.77h-2.1ZM811.90 323.43h2.1V328.67h-2.1ZM813.18 328.60h2.1V329.40h-2.1ZM814.46 329.33h2.1V334.60h-2.1ZM815.74 334.60h2.1V342.11h-2.1ZM820.86 307.69h2.1V308.49h-2.1ZM822.14 308.23h2.1V313.44h-2.1ZM823.42 313.44h2.1V314.38h-2.1ZM824.70 314.38h2.1V317.84h-2.1ZM827.26 309.10h2.1V310.80h-2.1ZM828.54 310.80h2.1V317.12h-2.1ZM829.82 317.12h2.1V326.97h-2.1ZM831.10 326.97h2.1V329.30h-2.1ZM832.38 329.30h2.1V330.55h-2.1ZM834.94 328.97h2.1V329.77h-2.1ZM837.50 321.55h2.1V324.60h-2.1ZM841.34 320.49h2.1V321.29h-2.1ZM842.62 321.28h2.1V331.64h-2.1ZM843.90 331.64h2.1V338.70h-2.1ZM845.18 338.70h2.1V348.82h-2.1ZM846.46 348.82h2.1V352.18h-2.1ZM851.58 340.03h2.1V340.83h-2.1ZM852.86 340.53h2.1V341.33h-2.1ZM854.14 341.07h2.1V357.99h-2.1ZM855.42 357.99h2.1V380.53h-2.1ZM859.26 350.72h2.1V351.66h-2.1ZM861.82 350.25h2.1V351.05h-2.1ZM863.10 350.81h2.1V357.50h-2.1ZM865.66 355.44h2.1V356.50h-2.1ZM866.94 356.50h2.1V362.47h-2.1ZM868.22 362.47h2.1V367.20h-2.1ZM869.50 367.20h2.1V370.29h-2.1ZM870.78 370.29h2.1V381.95h-2.1ZM872.06 381.95h2.1V391.35h-2.1ZM875.90 371.39h2.1V372.19h-2.1ZM877.18 371.97h2.1V387.32h-2.1ZM879.74 386.46h2.1V390.67h-2.1ZM881.02 390.67h2.1V394.68h-2.1ZM882.30 394.68h2.1V408.76h-2.1ZM887.42 385.81h2.1V394.52h-2.1ZM888.70 394.26h2.1V395.06h-2.1ZM892.54 389.08h2.1V392.15h-2.1ZM893.82 392.15h2.1V395.94h-2.1ZM895.10 395.94h2.1V398.07h-2.1ZM896.38 398.07h2.1V400.38h-2.1ZM897.66 400.38h2.1V403.71h-2.1ZM905.34 373.61h2.1V374.41h-2.1ZM906.62 374.17h2.1V386.65h-2.1ZM907.90 386.65h2.1V392.15h-2.1ZM909.18 392.03h2.1V392.83h-2.1ZM910.46 392.71h2.1V395.13h-2.1ZM911.74 395.13h2.1V397.05h-2.1ZM913.02 397.05h2.1V397.89h-2.1ZM919.42 383.15h2.1V385.06h-2.1ZM920.70 385.06h2.1V390.58h-2.1ZM921.98 390.25h2.1V391.05h-2.1ZM923.26 390.73h2.1V394.15h-2.1ZM928.38 375.58h2.1V380.15h-2.1ZM929.66 380.15h2.1V386.71h-2.1ZM930.94 386.71h2.1V391.70h-2.1ZM934.78 388.77h2.1V398.85h-2.1ZM936.06 398.85h2.1V401.57h-2.1ZM938.62 391.00h2.1V391.80h-2.1ZM939.90 391.67h2.1V398.51h-2.1ZM941.18 398.51h2.1V401.11h-2.1ZM942.46 401.11h2.1V403.89h-2.1ZM948.86 358.95h2.1V365.02h-2.1ZM950.14 365.02h2.1V366.75h-2.1ZM953.98 361.94h2.1V363.21h-2.1ZM959.10 344.39h2.1V355.48h-2.1ZM960.38 355.48h2.1V360.90h-2.1ZM961.66 360.90h2.1V365.25h-2.1ZM962.94 365.25h2.1V371.47h-2.1ZM971.90 351.83h2.1V358.22h-2.1ZM973.18 358.22h2.1V364.34h-2.1ZM974.46 364.34h2.1V374.26h-2.1ZM975.74 374.26h2.1V385.88h-2.1ZM982.14 370.42h2.1V378.59h-2.1ZM983.42 378.59h2.1V389.78h-2.1ZM984.70 389.78h2.1V391.38h-2.1ZM985.98 391.38h2.1V406.67h-2.1ZM994.94 375.66h2.1V386.16h-2.1ZM1000.06 370.27h2.1V386.12h-2.1ZM1001.34 386.12h2.1V390.73h-2.1ZM1002.62 390.73h2.1V394.77h-2.1ZM1003.90 394.77h2.1V406.48h-2.1ZM1005.18 406.48h2.1V419.76h-2.1ZM1006.46 419.76h2.1V423.98h-2.1ZM1015.42 392.99h2.1V400.26h-2.1ZM1016.70 400.26h2.1V406.35h-2.1ZM1021.82 392.57h2.1V393.94h-2.1ZM1024.38 392.90h2.1V401.52h-2.1ZM1026.94 400.84h2.1V401.64h-2.1ZM1032.06 383.23h2.1V384.18h-2.1ZM1038.46 355.35h2.1V356.56h-2.1ZM1039.74 356.56h2.1V360.91h-2.1ZM1042.30 360.09h2.1V368.92h-2.1ZM1048.70 346.22h2.1V349.72h-2.1ZM1049.98 349.72h2.1V355.19h-2.1ZM1051.26 355.19h2.1V362.97h-2.1ZM1058.94 348.09h2.1V359.22h-2.1ZM1062.78 355.31h2.1V361.34h-2.1ZM1074.30 308.74h2.1V311.03h-2.1ZM1075.58 311.03h2.1V317.15h-2.1ZM1076.86 317.15h2.1V323.45h-2.1ZM1078.14 323.45h2.1V324.54h-2.1ZM1079.42 324.54h2.1V326.27h-2.1ZM1080.70 326.27h2.1V327.12h-2.1ZM1081.98 327.12h2.1V336.68h-2.1ZM1083.26 336.68h2.1V340.49h-2.1ZM1085.82 335.48h2.1V352.77h-2.1ZM1089.66 337.91h2.1V339.17h-2.1ZM1090.94 339.17h2.1V343.47h-2.1ZM1101.18 292.20h2.1V298.73h-2.1ZM1102.46 298.60h2.1V299.40h-2.1ZM1107.58 269.21h2.1V273.54h-2.1ZM1108.86 273.54h2.1V285.30h-2.1ZM1111.42 273.72h2.1V278.84h-2.1ZM1112.70 278.84h2.1V285.42h-2.1ZM1113.98 285.42h2.1V295.75h-2.1ZM1115.26 295.75h2.1V299.13h-2.1ZM1116.54 299.13h2.1V300.62h-2.1ZM1133.18 207.90h2.1V209.23h-2.1ZM1134.46 209.23h2.1V220.17h-2.1ZM1137.02 218.62h2.1V224.12h-2.1ZM1138.30 224.12h2.1V230.25h-2.1ZM1145.98 195.69h2.1V197.24h-2.1Z" fill="#d8d8d8" stroke="#000" stroke-width="1.1"/><path d="M11.90 176.30h2.1V185.00h-2.1ZM13.18 171.80h2.1V176.30h-2.1ZM15.74 184.96h2.1V190.98h-2.1ZM17.02 183.79h2.1V184.96h-2.1ZM18.30 183.11h2.1V183.91h-2.1ZM19.58 182.54h2.1V183.34h-2.1ZM20.86 179.68h2.1V182.65h-2.1ZM27.26 197.19h2.1V200.00h-2.1ZM31.10 198.02h2.1V202.47h-2.1ZM32.38 195.47h2.1V198.02h-2.1ZM40.06 206.21h2.1V220.90h-2.1ZM42.62 201.66h2.1V207.70h-2.1ZM43.90 200.53h2.1V201.66h-2.1ZM45.18 192.41h2.1V200.53h-2.1ZM47.74 192.28h2.1V196.60h-2.1ZM50.30 190.36h2.1V195.45h-2.1ZM51.58 188.45h2.1V190.36h-2.1ZM54.14 193.15h2.1V195.12h-2.1ZM56.70 197.12h2.1V197.92h-2.1ZM59.26 190.69h2.1V202.04h-2.1ZM63.10 200.43h2.1V204.03h-2.1ZM65.66 198.84h2.1V204.20h-2.1ZM68.22 201.67h2.1V204.00h-2.1ZM73.34 200.77h2.1V211.26h-2.1ZM78.46 205.31h2.1V206.11h-2.1ZM79.74 202.89h2.1V205.65h-2.1ZM81.02 199.53h2.1V202.89h-2.1ZM83.58 201.68h2.1V204.60h-2.1ZM86.14 201.03h2.1V203.62h-2.1ZM87.42 194.30h2.1V201.03h-2.1ZM88.70 188.95h2.1V194.30h-2.1ZM89.98 185.54h2.1V188.95h-2.1ZM93.82 195.12h2.1V195.92h-2.1ZM98.94 201.72h2.1V205.69h-2.1ZM101.50 199.13h2.1V203.57h-2.1ZM102.78 198.39h2.1V199.19h-2.1ZM115.58 232.92h2.1V236.40h-2.1ZM116.86 226.32h2.1V232.92h-2.1ZM119.42 222.24h2.1V229.60h-2.1ZM121.98 219.28h2.1V224.22h-2.1ZM124.54 220.25h2.1V223.44h-2.1ZM127.10 220.94h2.1V223.03h-2.1ZM128.38 215.50h2.1V220.94h-2.1ZM129.66 210.54h2.1V215.50h-2.1ZM130.94 209.61h2.1V210.54h-2.1ZM133.50 206.39h2.1V211.94h-2.1ZM139.90 216.40h2.1V218.72h-2.1ZM141.18 211.25h2.1V216.40h-2.1ZM142.46 210.80h2.1V211.60h-2.1ZM146.30 222.58h2.1V223.38h-2.1ZM147.58 214.29h2.1V222.63h-2.1ZM151.42 225.06h2.1V226.97h-2.1ZM157.82 228.87h2.1V232.26h-2.1ZM160.38 240.13h2.1V240.93h-2.1ZM161.66 239.63h2.1V240.53h-2.1ZM162.94 234.95h2.1V239.63h-2.1ZM169.34 251.57h2.1V256.37h-2.1ZM174.46 275.42h2.1V284.50h-2.1ZM175.74 271.49h2.1V275.42h-2.1ZM177.02 270.84h2.1V271.64h-2.1ZM179.58 273.42h2.1V275.88h-2.1ZM180.86 270.46h2.1V273.42h-2.1ZM182.14 268.94h2.1V270.46h-2.1ZM192.38 284.51h2.1V287.94h-2.1ZM194.94 284.27h2.1V285.07h-2.1ZM196.22 281.25h2.1V284.46h-2.1ZM200.06 283.45h2.1V284.25h-2.1ZM206.46 287.04h2.1V290.99h-2.1ZM207.74 280.25h2.1V287.04h-2.1ZM209.02 265.17h2.1V280.25h-2.1ZM211.58 263.78h2.1V267.24h-2.1ZM216.70 279.01h2.1V280.29h-2.1ZM217.98 278.59h2.1V279.39h-2.1ZM219.26 273.04h2.1V278.97h-2.1ZM220.54 271.23h2.1V273.04h-2.1ZM221.82 268.48h2.1V271.23h-2.1ZM225.66 276.63h2.1V277.43h-2.1ZM235.90 333.13h2.1V336.32h-2.1ZM239.74 339.82h2.1V346.90h-2.1ZM244.86 373.91h2.1V384.37h-2.1ZM246.14 364.25h2.1V373.91h-2.1ZM247.42 358.85h2.1V364.25h-2.1ZM249.98 354.12h2.1V368.36h-2.1ZM255.10 381.57h2.1V387.48h-2.1ZM260.22 381.11h2.1V385.00h-2.1ZM261.50 371.73h2.1V381.11h-2.1ZM262.78 368.87h2.1V371.73h-2.1ZM265.34 348.40h2.1V369.16h-2.1ZM266.62 341.06h2.1V348.40h-2.1ZM267.90 338.65h2.1V341.06h-2.1ZM269.18 323.99h2.1V338.65h-2.1ZM270.46 317.41h2.1V323.99h-2.1ZM274.30 328.96h2.1V330.23h-2.1ZM278.14 343.07h2.1V343.87h-2.1ZM281.98 352.08h2.1V357.62h-2.1ZM283.26 350.30h2.1V352.08h-2.1ZM285.82 348.94h2.1V356.06h-2.1ZM287.10 348.34h2.1V349.14h-2.1ZM292.22 368.26h2.1V374.87h-2.1ZM293.50 366.73h2.1V368.26h-2.1ZM294.78 361.46h2.1V366.73h-2.1ZM296.06 349.37h2.1V361.46h-2.1ZM297.34 341.18h2.1V349.37h-2.1ZM298.62 339.84h2.1V341.18h-2.1ZM299.90 336.11h2.1V339.84h-2.1ZM301.18 334.40h2.1V336.11h-2.1ZM302.46 331.02h2.1V334.40h-2.1ZM303.74 325.65h2.1V331.02h-2.1ZM307.58 334.46h2.1V338.86h-2.1ZM308.86 333.14h2.1V334.46h-2.1ZM310.14 320.32h2.1V333.14h-2.1ZM311.42 319.59h2.1V320.39h-2.1ZM316.54 331.88h2.1V342.34h-2.1ZM317.82 317.03h2.1V331.88h-2.1ZM319.10 305.91h2.1V317.03h-2.1ZM320.38 304.21h2.1V305.91h-2.1ZM322.94 300.43h2.1V304.81h-2.1ZM331.90 339.27h2.1V340.07h-2.1ZM334.46 342.61h2.1V343.96h-2.1ZM335.74 341.10h2.1V342.61h-2.1ZM337.02 340.64h2.1V341.44h-2.1ZM339.58 334.34h2.1V342.09h-2.1ZM340.86 330.25h2.1V334.34h-2.1ZM344.70 330.55h2.1V343.54h-2.1ZM345.98 328.36h2.1V330.55h-2.1ZM348.54 329.42h2.1V330.22h-2.1ZM352.38 319.91h2.1V336.26h-2.1ZM353.66 317.28h2.1V319.91h-2.1ZM356.22 318.29h2.1V324.69h-2.1ZM357.50 309.09h2.1V318.29h-2.1ZM363.90 316.59h2.1V320.64h-2.1ZM365.18 315.50h2.1V316.59h-2.1ZM366.46 310.19h2.1V315.50h-2.1ZM371.58 323.06h2.1V330.95h-2.1ZM372.86 316.46h2.1V323.06h-2.1ZM375.42 314.81h2.1V335.15h-2.1ZM380.54 327.20h2.1V329.62h-2.1ZM383.10 329.94h2.1V333.14h-2.1ZM384.38 327.70h2.1V329.94h-2.1ZM388.22 343.24h2.1V344.93h-2.1ZM393.34 367.42h2.1V369.76h-2.1ZM394.62 365.79h2.1V367.42h-2.1ZM398.46 365.02h2.1V369.33h-2.1ZM399.74 352.82h2.1V365.02h-2.1ZM403.58 365.13h2.1V367.24h-2.1ZM404.86 363.31h2.1V365.13h-2.1ZM406.14 361.18h2.1V363.31h-2.1ZM441.98 471.30h2.1V488.44h-2.1ZM445.82 485.29h2.1V494.15h-2.1ZM449.66 505.38h2.1V507.86h-2.1ZM454.78 507.46h2.1V515.65h-2.1ZM456.06 492.14h2.1V507.46h-2.1ZM457.34 481.22h2.1V492.14h-2.1ZM458.62 479.46h2.1V481.22h-2.1ZM461.18 480.20h2.1V482.67h-2.1ZM462.46 474.65h2.1V480.20h-2.1ZM470.14 518.32h2.1V523.72h-2.1ZM471.42 514.37h2.1V518.32h-2.1ZM472.70 508.40h2.1V514.37h-2.1ZM473.98 505.28h2.1V508.40h-2.1ZM475.26 500.01h2.1V505.28h-2.1ZM476.54 497.05h2.1V500.01h-2.1ZM477.82 495.26h2.1V497.05h-2.1ZM480.38 491.26h2.1V496.65h-2.1ZM481.66 487.25h2.1V491.26h-2.1ZM482.94 475.19h2.1V487.25h-2.1ZM485.50 473.55h2.1V475.82h-2.1ZM491.90 488.04h2.1V491.87h-2.1ZM493.18 483.39h2.1V488.04h-2.1ZM494.46 468.76h2.1V483.39h-2.1ZM495.74 467.71h2.1V468.76h-2.1ZM499.58 473.82h2.1V477.22h-2.1ZM500.86 469.82h2.1V473.82h-2.1ZM502.14 467.12h2.1V469.82h-2.1ZM505.98 462.14h2.1V475.79h-2.1ZM507.26 452.67h2.1V462.14h-2.1ZM508.54 445.50h2.1V452.67h-2.1ZM509.82 430.41h2.1V445.50h-2.1ZM511.10 429.64h2.1V430.44h-2.1ZM513.66 442.64h2.1V443.44h-2.1ZM517.50 474.30h2.1V476.67h-2.1ZM518.78 461.90h2.1V474.30h-2.1ZM520.06 448.91h2.1V461.90h-2.1ZM525.18 463.90h2.1V466.89h-2.1ZM526.46 458.96h2.1V463.90h-2.1ZM532.86 479.68h2.1V482.56h-2.1ZM534.14 471.83h2.1V479.68h-2.1ZM535.42 467.20h2.1V471.83h-2.1ZM536.70 464.39h2.1V467.20h-2.1ZM543.10 488.98h2.1V489.81h-2.1ZM544.38 486.24h2.1V488.98h-2.1ZM545.66 485.74h2.1V486.54h-2.1ZM554.62 498.40h2.1V501.00h-2.1ZM557.18 498.95h2.1V502.71h-2.1ZM561.02 505.89h2.1V506.69h-2.1ZM562.30 505.21h2.1V506.18h-2.1ZM564.86 507.95h2.1V509.47h-2.1ZM568.70 511.69h2.1V514.87h-2.1ZM569.98 502.35h2.1V511.69h-2.1ZM571.26 493.79h2.1V502.35h-2.1ZM572.54 486.33h2.1V493.79h-2.1ZM573.82 475.42h2.1V486.33h-2.1ZM575.10 471.47h2.1V475.42h-2.1ZM576.38 468.41h2.1V471.47h-2.1ZM580.22 475.26h2.1V477.00h-2.1ZM585.34 481.98h2.1V487.99h-2.1ZM586.62 472.79h2.1V481.98h-2.1ZM587.90 458.88h2.1V472.79h-2.1ZM589.18 448.04h2.1V458.88h-2.1ZM595.58 477.18h2.1V484.12h-2.1ZM596.86 467.55h2.1V477.18h-2.1ZM603.26 468.95h2.1V480.15h-2.1ZM604.54 468.15h2.1V468.95h-2.1ZM609.66 472.99h2.1V473.79h-2.1ZM612.22 474.74h2.1V475.54h-2.1ZM613.50 473.44h2.1V474.98h-2.1ZM616.06 469.44h2.1V475.67h-2.1ZM618.62 467.12h2.1V472.94h-2.1ZM619.90 463.11h2.1V467.12h-2.1ZM621.18 454.73h2.1V463.11h-2.1ZM622.46 444.12h2.1V454.73h-2.1ZM626.30 446.99h2.1V448.44h-2.1ZM631.42 458.71h2.1V461.22h-2.1ZM632.70 454.71h2.1V458.71h-2.1ZM633.98 448.40h2.1V454.71h-2.1ZM635.26 443.91h2.1V448.40h-2.1ZM636.54 432.57h2.1V443.91h-2.1ZM637.82 429.60h2.1V432.57h-2.1ZM644.22 447.34h2.1V449.69h-2.1ZM645.50 434.82h2.1V447.34h-2.1ZM646.78 433.86h2.1V434.82h-2.1ZM649.34 424.13h2.1V436.24h-2.1ZM653.18 441.86h2.1V452.04h-2.1ZM654.46 425.72h2.1V441.86h-2.1ZM655.74 422.73h2.1V425.72h-2.1ZM665.98 442.86h2.1V455.12h-2.1ZM668.54 442.85h2.1V445.03h-2.1ZM671.10 447.34h2.1V448.36h-2.1ZM672.38 443.83h2.1V447.34h-2.1ZM673.66 429.86h2.1V443.83h-2.1ZM674.94 420.55h2.1V429.86h-2.1ZM676.22 420.12h2.1V420.92h-2.1ZM677.50 418.96h2.1V420.49h-2.1ZM680.06 426.69h2.1V428.10h-2.1ZM682.62 434.97h2.1V436.18h-2.1ZM685.18 436.49h2.1V440.48h-2.1ZM686.46 431.75h2.1V436.49h-2.1ZM689.02 431.51h2.1V432.31h-2.1ZM691.58 434.78h2.1V436.64h-2.1ZM692.86 428.30h2.1V434.78h-2.1ZM697.98 428.18h2.1V432.03h-2.1ZM700.54 429.37h2.1V434.09h-2.1ZM703.10 427.13h2.1V433.28h-2.1ZM704.38 419.91h2.1V427.13h-2.1ZM705.66 404.43h2.1V419.91h-2.1ZM706.94 398.63h2.1V404.43h-2.1ZM708.22 393.04h2.1V398.63h-2.1ZM709.50 391.30h2.1V393.04h-2.1ZM712.06 401.28h2.1V402.08h-2.1ZM713.34 398.26h2.1V401.63h-2.1ZM714.62 397.59h2.1V398.39h-2.1ZM715.90 397.11h2.1V397.91h-2.1ZM717.18 395.44h2.1V397.31h-2.1ZM721.02 404.92h2.1V406.42h-2.1ZM723.58 412.10h2.1V414.64h-2.1ZM724.86 410.02h2.1V412.10h-2.1ZM726.14 400.60h2.1V410.02h-2.1ZM728.70 396.36h2.1V400.78h-2.1ZM729.98 385.53h2.1V396.36h-2.1ZM732.54 380.23h2.1V388.23h-2.1ZM737.66 387.21h2.1V390.63h-2.1ZM738.94 379.86h2.1V387.21h-2.1ZM740.22 364.17h2.1V379.86h-2.1ZM741.50 360.65h2.1V364.17h-2.1ZM744.06 360.60h2.1V363.53h-2.1ZM745.34 352.77h2.1V360.60h-2.1ZM746.62 344.76h2.1V352.77h-2.1ZM747.90 340.90h2.1V344.76h-2.1ZM749.18 317.31h2.1V340.90h-2.1ZM753.02 338.39h2.1V347.89h-2.1ZM754.30 333.41h2.1V338.39h-2.1ZM755.58 324.68h2.1V333.41h-2.1ZM756.86 319.45h2.1V324.68h-2.1ZM758.14 318.80h2.1V319.60h-2.1ZM763.26 328.42h2.1V334.60h-2.1ZM764.54 316.08h2.1V328.42h-2.1ZM765.82 307.49h2.1V316.08h-2.1ZM767.10 302.03h2.1V307.49h-2.1ZM768.38 300.36h2.1V302.03h-2.1ZM769.66 290.19h2.1V300.36h-2.1ZM777.34 315.18h2.1V322.57h-2.1ZM778.62 308.53h2.1V315.18h-2.1ZM779.90 305.41h2.1V308.53h-2.1ZM782.46 309.64h2.1V310.66h-2.1ZM783.74 308.37h2.1V309.64h-2.1ZM786.30 315.63h2.1V319.77h-2.1ZM787.58 313.54h2.1V315.63h-2.1ZM792.70 316.29h2.1V321.20h-2.1ZM796.54 329.03h2.1V329.83h-2.1ZM797.82 327.46h2.1V329.31h-2.1ZM799.10 324.46h2.1V327.46h-2.1ZM802.94 336.26h2.1V338.11h-2.1ZM804.22 331.17h2.1V336.26h-2.1ZM806.78 320.70h2.1V333.30h-2.1ZM808.06 319.59h2.1V320.70h-2.1ZM817.02 331.33h2.1V342.11h-2.1ZM818.30 316.76h2.1V331.33h-2.1ZM819.58 307.96h2.1V316.76h-2.1ZM825.98 309.10h2.1V317.84h-2.1ZM833.66 329.13h2.1V330.55h-2.1ZM836.22 321.55h2.1V329.61h-2.1ZM838.78 322.59h2.1V324.60h-2.1ZM840.06 320.50h2.1V322.59h-2.1ZM847.74 351.44h2.1V352.24h-2.1ZM849.02 345.92h2.1V351.50h-2.1ZM850.30 340.06h2.1V345.92h-2.1ZM856.70 366.83h2.1V380.53h-2.1ZM857.98 350.72h2.1V366.83h-2.1ZM860.54 350.49h2.1V351.66h-2.1ZM864.38 355.44h2.1V357.50h-2.1ZM873.34 384.04h2.1V391.35h-2.1ZM874.62 371.61h2.1V384.04h-2.1ZM878.46 386.46h2.1V387.32h-2.1ZM883.58 389.58h2.1V408.76h-2.1ZM884.86 387.08h2.1V389.58h-2.1ZM886.14 385.81h2.1V387.08h-2.1ZM889.98 392.10h2.1V394.80h-2.1ZM891.26 389.08h2.1V392.10h-2.1ZM898.94 397.62h2.1V403.71h-2.1ZM900.22 388.21h2.1V397.62h-2.1ZM901.50 379.24h2.1V388.21h-2.1ZM902.78 375.20h2.1V379.24h-2.1ZM904.06 373.85h2.1V375.20h-2.1ZM914.30 393.86h2.1V397.89h-2.1ZM915.58 387.48h2.1V393.86h-2.1ZM916.86 383.81h2.1V387.48h-2.1ZM918.14 383.08h2.1V383.88h-2.1ZM924.54 387.24h2.1V394.15h-2.1ZM925.82 383.28h2.1V387.24h-2.1ZM927.10 375.58h2.1V383.28h-2.1ZM932.22 391.09h2.1V391.89h-2.1ZM933.50 388.77h2.1V391.29h-2.1ZM937.34 391.12h2.1V401.57h-2.1ZM943.74 385.42h2.1V403.89h-2.1ZM945.02 371.42h2.1V385.42h-2.1ZM946.30 365.48h2.1V371.42h-2.1ZM947.58 358.95h2.1V365.48h-2.1ZM951.42 363.43h2.1V366.75h-2.1ZM952.70 361.94h2.1V363.43h-2.1ZM955.26 359.06h2.1V363.21h-2.1ZM956.54 356.02h2.1V359.06h-2.1ZM957.82 344.39h2.1V356.02h-2.1ZM964.22 370.07h2.1V371.47h-2.1ZM965.50 366.80h2.1V370.07h-2.1ZM966.78 364.82h2.1V366.80h-2.1ZM968.06 359.93h2.1V364.82h-2.1ZM969.34 353.21h2.1V359.93h-2.1ZM970.62 351.83h2.1V353.21h-2.1ZM977.02 384.37h2.1V385.88h-2.1ZM978.30 382.33h2.1V384.37h-2.1ZM979.58 376.05h2.1V382.33h-2.1ZM980.86 370.42h2.1V376.05h-2.1ZM987.26 405.90h2.1V406.70h-2.1ZM988.54 393.43h2.1V405.93h-2.1ZM989.82 383.21h2.1V393.43h-2.1ZM991.10 377.49h2.1V383.21h-2.1ZM992.38 376.90h2.1V377.70h-2.1ZM993.66 375.66h2.1V377.10h-2.1ZM996.22 384.38h2.1V386.16h-2.1ZM997.50 378.81h2.1V384.38h-2.1ZM998.78 370.27h2.1V378.81h-2.1ZM1007.74 423.48h2.1V424.28h-2.1ZM1009.02 410.00h2.1V423.77h-2.1ZM1010.30 403.10h2.1V410.00h-2.1ZM1011.58 399.13h2.1V403.10h-2.1ZM1012.86 397.50h2.1V399.13h-2.1ZM1014.14 392.99h2.1V397.50h-2.1ZM1017.98 401.79h2.1V406.35h-2.1ZM1019.26 397.31h2.1V401.79h-2.1ZM1020.54 392.57h2.1V397.31h-2.1ZM1023.10 392.90h2.1V393.94h-2.1ZM1025.66 400.79h2.1V401.59h-2.1ZM1028.22 391.41h2.1V401.61h-2.1ZM1029.50 390.71h2.1V391.51h-2.1ZM1030.78 383.23h2.1V390.82h-2.1ZM1033.34 382.16h2.1V384.18h-2.1ZM1034.62 371.62h2.1V382.16h-2.1ZM1035.90 359.00h2.1V371.62h-2.1ZM1037.18 355.35h2.1V359.00h-2.1ZM1041.02 360.09h2.1V360.91h-2.1ZM1043.58 360.79h2.1V368.92h-2.1ZM1044.86 355.34h2.1V360.79h-2.1ZM1046.14 351.77h2.1V355.34h-2.1ZM1047.42 346.22h2.1V351.77h-2.1ZM1052.54 353.84h2.1V362.97h-2.1ZM1053.82 351.02h2.1V353.84h-2.1ZM1055.10 350.37h2.1V351.17h-2.1ZM1056.38 348.88h2.1V350.52h-2.1ZM1057.66 348.09h2.1V348.89h-2.1ZM1060.22 355.85h2.1V359.22h-2.1ZM1061.50 355.18h2.1V355.98h-2.1ZM1064.06 347.47h2.1V361.34h-2.1ZM1065.34 339.88h2.1V347.47h-2.1ZM1066.62 331.80h2.1V339.88h-2.1ZM1067.90 330.32h2.1V331.80h-2.1ZM1069.18 326.01h2.1V330.32h-2.1ZM1070.46 321.40h2.1V326.01h-2.1ZM1071.74 316.45h2.1V321.40h-2.1ZM1073.02 308.74h2.1V316.45h-2.1ZM1084.54 335.48h2.1V340.49h-2.1ZM1087.10 346.14h2.1V352.77h-2.1ZM1088.38 337.91h2.1V346.14h-2.1ZM1092.22 339.15h2.1V343.47h-2.1ZM1093.50 336.45h2.1V339.15h-2.1ZM1094.78 320.15h2.1V336.45h-2.1ZM1096.06 304.63h2.1V320.15h-2.1ZM1097.34 295.39h2.1V304.63h-2.1ZM1098.62 293.44h2.1V295.39h-2.1ZM1099.90 292.20h2.1V293.44h-2.1ZM1103.74 289.64h2.1V299.26h-2.1ZM1105.02 281.46h2.1V289.64h-2.1ZM1106.30 269.21h2.1V281.46h-2.1ZM1110.14 273.72h2.1V285.30h-2.1ZM1117.82 294.90h2.1V300.62h-2.1ZM1119.10 287.27h2.1V294.90h-2.1ZM1120.38 270.52h2.1V287.27h-2.1ZM1121.66 263.57h2.1V270.52h-2.1ZM1122.94 251.34h2.1V263.57h-2.1ZM1124.22 240.00h2.1V251.34h-2.1ZM1125.50 232.40h2.1V240.00h-2.1ZM1126.78 230.51h2.1V232.40h-2.1ZM1128.06 221.38h2.1V230.51h-2.1ZM1129.34 215.35h2.1V221.38h-2.1ZM1130.62 211.36h2.1V215.35h-2.1ZM1131.90 207.90h2.1V211.36h-2.1ZM1135.74 218.62h2.1V220.17h-2.1ZM1139.58 226.30h2.1V230.25h-2.1ZM1140.86 216.90h2.1V226.30h-2.1ZM1142.14 206.16h2.1V216.90h-2.1ZM1143.42 197.46h2.1V206.16h-2.1ZM1144.70 195.69h2.1V197.46h-2.1Z" fill="#000" stroke="#000" stroke-width="1.1"/><path d="M396.8 365.6 L398.9 374.0 L401.0 350.9 L403.1 367.7 L405.2 361.4 L407.3 363.5 L410.4 371.9 L413.6 382.4 L415.7 399.2 L418.8 403.4 L420.9 420.3 L423.0 426.6 L423.5 430.0" stroke="#000" stroke-width="2.6" fill="none" stroke-linejoin="round"/><path d="M440.0 446.0 L441.0 500.0 L443.0 470.0 L445.0 500.0 L447.0 480.0 L449.0 510.0 L452.0 505.0 L455.0 520.0 L457.0 490.0 L460.7 475.0 L463.6 481.0 L466.5 501.0 L470.0 522.0" stroke="#000" stroke-width="2.6" fill="none" stroke-linejoin="round"/>
<line x1="1173.2" y1="108" x2="1173.2" y2="636" stroke="#111" stroke-width="1.8"/>
<g font-size="23.5" font-family="Liberation Sans" fill="#111">
<path d="M1173 119.7 L1181 122.7 L1173 125.7 Z" /><text x="1182.3" y="130.7" textLength="32.8" lengthAdjust="spacingAndGlyphs">3.5</text><path d="M1173 203.8 L1181 206.8 L1173 209.8 Z" /><text x="1182.3" y="214.8" textLength="32.8" lengthAdjust="spacingAndGlyphs">3.0</text><path d="M1173 287.8 L1181 290.8 L1173 293.8 Z" /><text x="1182.3" y="298.8" textLength="32.8" lengthAdjust="spacingAndGlyphs">2.5</text><path d="M1173 371.9 L1181 374.9 L1173 377.9 Z" /><text x="1182.3" y="382.9" textLength="32.8" lengthAdjust="spacingAndGlyphs">2.0</text><path d="M1173 455.9 L1181 458.9 L1173 461.9 Z" /><text x="1182.3" y="466.9" textLength="32.8" lengthAdjust="spacingAndGlyphs">1.5</text><path d="M1173 540.0 L1181 543.0 L1173 546.0 Z" /><text x="1182.3" y="551.0" textLength="32.8" lengthAdjust="spacingAndGlyphs">1.0</text><path d="M1173 624.0 L1181 627.0 L1173 630.0 Z" /><text x="1182.3" y="635.0" textLength="32.8" lengthAdjust="spacingAndGlyphs">0.5</text><line x1="1173" y1="164.7" x2="1177.5" y2="164.7" stroke="#111" stroke-width="1.1"/><line x1="1173" y1="248.8" x2="1177.5" y2="248.8" stroke="#111" stroke-width="1.1"/><line x1="1173" y1="332.8" x2="1177.5" y2="332.8" stroke="#111" stroke-width="1.1"/><line x1="1173" y1="416.9" x2="1177.5" y2="416.9" stroke="#111" stroke-width="1.1"/><line x1="1173" y1="500.9" x2="1177.5" y2="500.9" stroke="#111" stroke-width="1.1"/><line x1="1173" y1="585.0" x2="1177.5" y2="585.0" stroke="#111" stroke-width="1.1"/>
</g>
<text transform="translate(1225 325.5) rotate(90)" font-size="27.8" font-family="Liberation Sans" fill="#111">Percent</text>
<g font-size="24.5" font-family="Liberation Sans" fill="#111">
<text x="175.3" y="686.3" textLength="51.5" lengthAdjust="spacingAndGlyphs">2019</text>
<text x="508.7" y="686.3" textLength="51.5" lengthAdjust="spacingAndGlyphs">2020</text>
<text x="841.7" y="686.3" textLength="51.5" lengthAdjust="spacingAndGlyphs">2021</text>
<text x="1076.9" y="686.3" textLength="51.5" lengthAdjust="spacingAndGlyphs">2022</text>
</g>
</svg>
<div class="t" id="src" style="left:15px;top:697.5px;font-size:18.5px;font-weight:bold;letter-spacing:0.55px;word-spacing:2px;-webkit-text-stroke:0.5px #000;transform:scaleX(1.07);transform-origin:0 0;">Source: Bloomberg</div>
<div class="t" id="bb" style="left:1093px;top:692.8px;font-size:23.5px;font-weight:normal;letter-spacing:0.1px;transform:scaleX(1.1);transform-origin:0 0;-webkit-text-stroke:0.85px #000;">Bloomberg</div>
<svg width="22" height="24" style="position:absolute;left:1227px;top:693px">
<path d="M3.5 0.5 H16 Q19 0.5 19 3.5 V15 Q19 18 16 18 H12.5 L10 21 L7.5 18 H3.5 Q0.8 18 0.8 15 V3.5 Q0.8 0.5 3.5 0.5 Z" fill="#000"/>
<rect x="3.5" y="10.7" width="1.9" height="4.3" rx="0.9" fill="#fff"/><rect x="7" y="6.8" width="1.9" height="8.2" rx="0.9" fill="#fff"/><rect x="10.6" y="4.8" width="1.9" height="10.2" rx="0.9" fill="#fff"/><rect x="14.3" y="10.7" width="1.9" height="4.3" rx="0.9" fill="#fff"/>
</svg>
</body></html>
